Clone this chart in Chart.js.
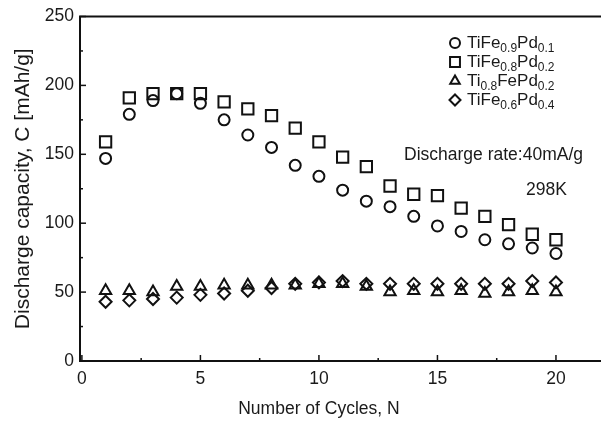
<!DOCTYPE html>
<html>
<head>
<meta charset="utf-8">
<script src="https://cdn.jsdelivr.net/npm/chart.js@4.4.1/dist/chart.umd.min.js"></script>
<style>
  html, body { margin: 0; padding: 0; background: #fff; }
  #wrap { width: 601px; height: 423px; }
</style>
</head>
<body>
<div id="wrap"><canvas id="chartCapacidad" width="601" height="423"></canvas></div>
<script>
// ciclos
const ciclos = [1, 2, 3, 4, 5, 6, 7, 8, 9, 10, 11, 12, 13, 14, 15, 16, 17, 18, 19, 20];

// capacidad de descarga [mAh/g]
const tiFe09Pd01 = [147, 179, 189, 194, 187, 175, 164, 155, 142, 134, 124, 116, 112, 105, 98, 94, 88, 85, 82, 78];
const tiFe08Pd02 = [159, 191, 194, 194, 194, 188, 183, 178, 169, 159, 148, 141, 127, 121, 120, 111, 105, 99, 92, 88];
const ti08FePd02 = [51, 51, 50, 54, 54, 55, 55, 55, 55, 56, 56, 54, 50, 51, 50, 51, 49, 50, 51, 50];
const tiFe06Pd04 = [43, 44, 45, 46, 48, 49, 51, 53, 56, 57, 58, 56, 56, 56, 56, 56, 56, 56, 58, 57];

const ticksX = [0, 2.5, 5, 7.5, 10, 12.5, 15, 17.5, 20];
const ticksY = [0, 25, 50, 75, 100, 125, 150, 175, 200, 225, 250];

// etiquetas de la leyenda: [texto, subindice?]
const leyenda = [
    { estilo: 'circle', radio: 5, partes: [['TiFe', false], ['0.9', true], ['Pd', false], ['0.1', true]] },
    { estilo: 'rect', radio: 7, partes: [['TiFe', false], ['0.8', true], ['Pd', false], ['0.2', true]] },
    { estilo: 'triangle', radio: 5.5, partes: [['Ti', false], ['0.8', true], ['FePd', false], ['0.2', true]] },
    { estilo: 'rectRot', radio: 5.5, partes: [['TiFe', false], ['0.6', true], ['Pd', false], ['0.4', true]] }
];

const FUENTE = 'Liberation Sans, Arial, Helvetica, sans-serif';
const NEGRO = '#111';
const TEXTO = '#1a1a1a';

function serie(label, valores, estilo, radio) {
    return {
        label: label,
        data: ciclos.map((c, i) => ({ x: c, y: valores[i] })),
        showLine: false,
        pointStyle: estilo,
        pointRadius: radio,
        pointBorderWidth: 2,
        pointBorderColor: NEGRO,
        pointBackgroundColor: 'rgba(0,0,0,0)'
    };
}

// marcas, marco y textos extra
const extras = {
    id: 'extras',
    afterDraw(chart) {
        const ctx = chart.ctx;
        const sx = chart.scales.x, sy = chart.scales.y;
        const a = chart.chartArea;
        ctx.save();
        ctx.strokeStyle = NEGRO;
        ctx.lineWidth = 2;
        // marco superior
        ctx.beginPath();
        ctx.moveTo(a.left - 1, a.top);
        ctx.lineTo(chart.width, a.top);
        ctx.stroke();

        // marcas hacia adentro
        ctx.lineWidth = 1.5;
        ticksX.forEach(v => {
            const px = sx.getPixelForValue(v);
            const largo = v % 5 === 0 ? 6 : 3;
            ctx.beginPath();
            ctx.moveTo(px, a.bottom);
            ctx.lineTo(px, a.bottom - largo);
            ctx.stroke();
        });
        ticksY.forEach(v => {
            const py = sy.getPixelForValue(v);
            const largo = v % 50 === 0 ? 6 : 3;
            ctx.beginPath();
            ctx.moveTo(a.left, py);
            ctx.lineTo(a.left + largo, py);
            ctx.stroke();
        });

        // titulos de ejes
        ctx.fillStyle = TEXTO;
        ctx.font = '17.5px ' + FUENTE;
        ctx.textAlign = 'center';
        ctx.textBaseline = 'middle';
        ctx.fillText('Number of Cycles, N', sx.getPixelForValue(10), 409);

        ctx.save();
        ctx.translate(23, (a.top + a.bottom) / 2);
        ctx.rotate(-Math.PI / 2);
        ctx.font = '21px ' + FUENTE;
        ctx.fillText('Discharge capacity, C [mAh/g]', 0, 0);
        ctx.restore();

        // leyenda
        const helpers = Chart.helpers;
        leyenda.forEach((item, i) => {
            const y = 43 + i * 19;
            if (helpers && helpers.drawPoint) {
                ctx.lineWidth = 2;
                ctx.strokeStyle = NEGRO;
                ctx.fillStyle = 'rgba(0,0,0,0)';
                helpers.drawPoint(ctx, { pointStyle: item.estilo, radius: item.radio, borderWidth: 2 }, 455, y);
            }
            let x = 467;
            ctx.fillStyle = TEXTO;
            ctx.textAlign = 'left';
            ctx.textBaseline = 'middle';
            item.partes.forEach(([txt, sub]) => {
                ctx.font = (sub ? '12px ' : '17px ') + FUENTE;
                ctx.fillText(txt, x, sub ? y + 6 : y);
                x += ctx.measureText(txt).width;
            });
        });

        ctx.font = '17.5px ' + FUENTE;
        ctx.fillText('Discharge rate:40mA/g', 404, 155);
        ctx.fillText('298K', 526, 190);
        ctx.restore();
    }
};

const ctx = document.getElementById('chartCapacidad').getContext('2d');
window.graficaCapacidad = new Chart(ctx, {
    type: 'scatter',
    data: {
        datasets: [
            serie('TiFe0.9Pd0.1', tiFe09Pd01, 'circle', 5.5),
            serie('TiFe0.8Pd0.2', tiFe08Pd02, 'rect', 8),
            serie('Ti0.8FePd0.2', ti08FePd02, 'triangle', 6.5),
            serie('TiFe0.6Pd0.4', tiFe06Pd04, 'rectRot', 6)
        ]
    },
    options: {
        responsive: false,
        animation: false,
        layout: { autoPadding: false, padding: { top: 14, right: 0, left: 0, bottom: 0 } },
        scales: {
            x: {
                type: 'linear',
                min: -0.08,
                max: 21.9,
                afterBuildTicks: function (scale) {
                    scale.ticks = [0, 5, 10, 15, 20].map(v => ({ value: v }));
                },
                afterFit: function (scale) { scale.height = 62; },
                grid: { display: false, drawTicks: false },
                border: { display: true, color: NEGRO, width: 2 },
                ticks: {
                    color: TEXTO,
                    padding: 8,
                    font: { family: FUENTE, size: 17.5 },
                    maxRotation: 0,
                    autoSkip: false
                },
                title: { display: false }
            },
            y: {
                type: 'linear',
                min: 0,
                max: 250,
                afterBuildTicks: function (scale) {
                    scale.ticks = [0, 50, 100, 150, 200, 250].map(v => ({ value: v }));
                },
                afterFit: function (scale) { scale.width = 80; },
                grid: { display: false, drawTicks: false },
                border: { display: true, color: NEGRO, width: 2 },
                ticks: {
                    color: TEXTO,
                    padding: 6,
                    font: { family: FUENTE, size: 17.5 }
                },
                title: { display: false }
            }
        },
        plugins: {
            legend: { display: false },
            tooltip: { enabled: false }
        }
    },
    plugins: [extras]
});
</script>
</body>
</html>
